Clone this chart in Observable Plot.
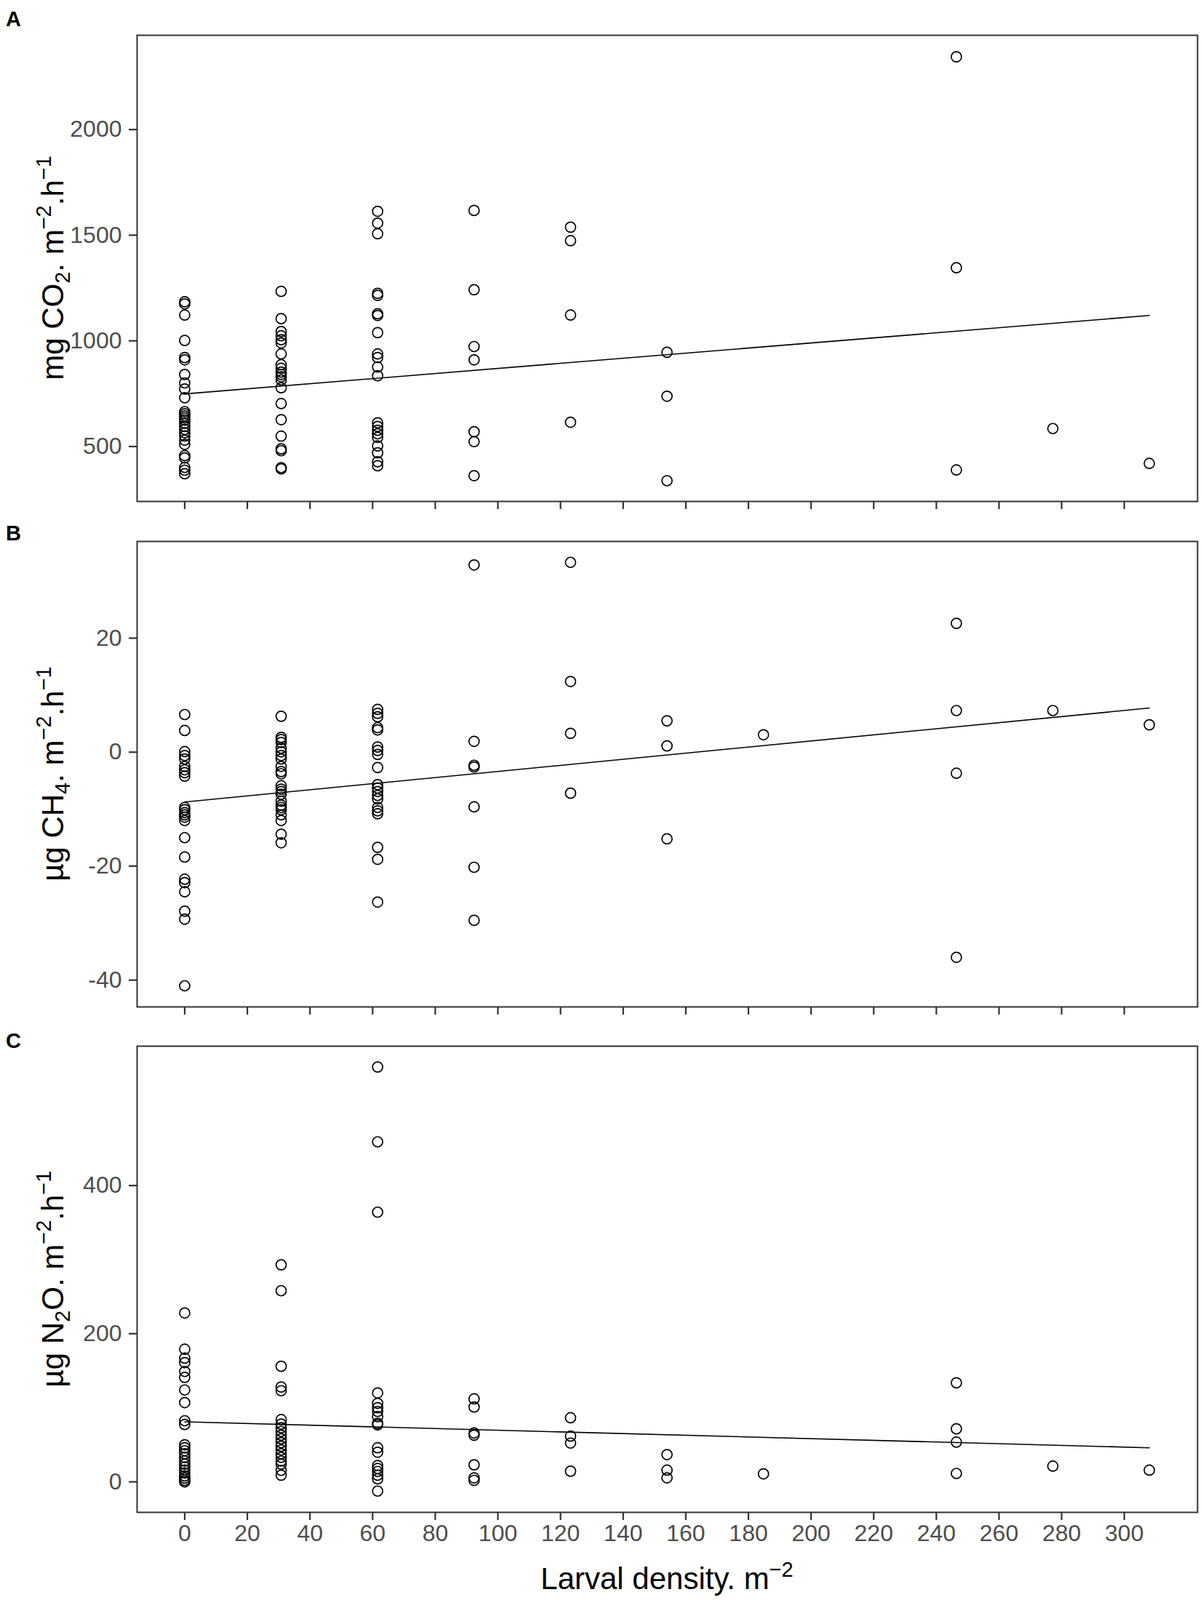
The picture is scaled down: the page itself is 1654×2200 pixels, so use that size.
<!DOCTYPE html>
<html>
<head>
<meta charset="utf-8">
<script src="https://cdn.jsdelivr.net/npm/d3@7"></script>
<script src="https://cdn.jsdelivr.net/npm/@observablehq/plot@0.6"></script>
<style>
  html, body { margin: 0; padding: 0; background: white; }
  #chart { position: relative; width: 1654px; height: 2200px; }
  #chart svg { display: block; }
  .panel-letter { position: absolute; left: 8px; font: bold 29px 'Liberation Sans', Arial, sans-serif; line-height: 29px; color: black; }
</style>
</head>
<body>
<div id="chart"></div>
<script>
// Larval density levels (m^-2)
const densities = [0, 30.8, 61.6, 92.4, 123.2, 154, 184.8, 246.4, 277.2, 308];
const xTicks = [0, 20, 40, 60, 80, 100, 120, 140, 160, 180, 200, 220, 240, 260, 280, 300];

// Panel A: mg CO2 m-2 h-1, one list per density level
const co2_0 = [1185, 1175, 1122, 1002, 921, 910, 841, 801, 772, 731, 665, 655, 645, 635, 625, 610, 595, 580, 565, 550, 530, 510, 457, 446, 401, 388, 371];
const co2_31 = [1234, 1105, 1044, 1024, 1005, 990, 938, 887, 870, 852, 841, 830, 815, 778, 703, 627, 549, 489, 480, 400, 394];
const co2_62 = [1613, 1557, 1507, 1225, 1215, 1128, 1120, 1039, 938, 921, 876, 835, 612, 595, 577, 560, 543, 503, 470, 428, 409];
const co2_92 = [1617, 1242, 973, 910, 570, 523, 362];
const co2_123 = [1538, 1474, 1122, 615];
const co2_154 = [946, 738, 338];
const co2_185 = [];
const co2_246 = [2344, 1346, 389];
const co2_277 = [585];
const co2_308 = [420];
const co2Fit = [749, 1120];
const co2Ticks = [500, 1000, 1500, 2000];

// Panel B: µg CH4 m-2 h-1
const ch4_0 = [6.6, 3.8, 0.1, -0.6, -1.2, -2.5, -3.1, -3.6, -4.2, -9.7, -10.1, -10.6, -11.0, -11.4, -12.0, -15.0, -18.4, -22.3, -22.9, -24.5, -27.9, -29.3, -41.0];
const ch4_31 = [6.3, 2.6, 2.2, 1.7, 0.7, 0.05, -0.6, -1.2, -2.5, -3.4, -3.8, -5.9, -6.5, -6.9, -7.4, -8.6, -9.3, -9.7, -10.1, -11.0, -12.0, -14.4, -15.9];
const ch4_62 = [7.5, 6.8, 6.2, 4.3, 3.9, 0.9, 0.3, -0.4, -2.7, -5.7, -6.3, -6.9, -7.6, -8.2, -9.7, -10.3, -10.8, -16.7, -18.8, -26.3];
const ch4_92 = [32.85, 1.9, -2.3, -2.6, -9.6, -20.2, -29.5];
const ch4_123 = [33.3, 12.4, 3.3, -7.2];
const ch4_154 = [5.5, 1.1, -15.2];
const ch4_185 = [3.05];
const ch4_246 = [22.6, 7.3, -3.7, -36.0];
const ch4_277 = [7.3];
const ch4_308 = [4.8];
const ch4Fit = [-8.74, 7.74];
const ch4Ticks = [-40, -20, 0, 20];

// Panel C: µg N2O m-2 h-1
const n2o_0 = [228, 179, 167, 161, 149, 141, 124, 107, 82.5, 77.5, 50, 46, 42, 38, 33, 28, 24, 20, 16, 12, 8, 5, 2, 0];
const n2o_31 = [293, 258, 156, 128, 123, 84, 78, 73, 68, 63, 58, 53, 48, 43, 38, 33, 28, 24, 15.5, 9];
const n2o_62 = [560, 459, 364, 120, 106, 100, 95, 88, 79, 77, 46, 40, 22, 18, 14, 9, 4, -12.5];
const n2o_92 = [112, 101, 66, 63, 23, 5.4, 2];
const n2o_123 = [86.5, 61.7, 52.3, 14.4];
const n2o_154 = [36.8, 15.8, 5.4];
const n2o_185 = [10.8];
const n2o_246 = [133.7, 71.6, 53.6, 11.3];
const n2o_277 = [21.2];
const n2o_308 = [15.8];
const n2oFit = [81.1, 46.0];
const n2oTicks = [0, 200, 400];

function toRows(groups) {
  const rows = [];
  groups.forEach((vals, i) => vals.forEach(v => rows.push({x: densities[i], y: v})));
  return rows;
}
function fitRows(fit) {
  return [{x: densities[0], y: fit[0]}, {x: densities[densities.length - 1], y: fit[1]}];
}

const FONT = "'Liberation Sans', Arial, Helvetica, sans-serif";
const W = 1654;
const chart = document.getElementById("chart");

function panel(cfg) {
  const rows = toRows(cfg.groups);
  const svgEl = Plot.plot({
    width: W,
    height: cfg.height,
    marginLeft: 188,
    marginRight: 8,
    marginTop: cfg.mt,
    marginBottom: cfg.mb,
    style: {fontFamily: FONT, fontSize: "32px", background: "white", color: "#4d4d4d", overflow: "visible"},
    x: {domain: [-15.2, 323.4]},
    y: {domain: cfg.yDomain},
    marks: [
      Plot.axisX({ticks: xTicks, tickSize: 11, tickPadding: 6, stroke: "#333", strokeWidth: 2.2, fill: "#4d4d4d",
        label: null, tickFormat: cfg.showX ? (d => String(d)) : (() => "")}),
      Plot.axisY({ticks: cfg.yTicks, tickSize: 11, tickPadding: 10, stroke: "#333", strokeWidth: 2.2, fill: "#4d4d4d",
        label: null, tickFormat: d => String(d)}),
      Plot.line(fitRows(cfg.fit), {x: "x", y: "y", stroke: "black", strokeWidth: 1.6}),
      Plot.dot(rows, {x: "x", y: "y", r: 7, stroke: "black", strokeWidth: 1.7, fill: "none"}),
      Plot.frame({stroke: "#333", strokeWidth: 2})
    ]
  });
  svgEl.style.position = "absolute";
  svgEl.style.left = "0px";
  svgEl.style.top = cfg.top + "px";
  const svg = d3.select(svgEl);
  // y-axis title
  const cy = cfg.mt + (cfg.height - cfg.mt - cfg.mb) / 2;
  const t = svg.append("text")
    .attr("transform", `translate(87,${cy}) rotate(-90)`)
    .attr("text-anchor", "middle")
    .style("font-family", FONT).style("font-size", "42px").style("fill", "black");
  t.append("tspan").text(cfg.title[0]);
  t.append("tspan").style("font-size", "29px").attr("dy", 9).text(cfg.title[1]);
  t.append("tspan").attr("dy", -9).text(cfg.title[2]);
  t.append("tspan").style("font-size", "29px").attr("dy", -17).text("\u22122");
  t.append("tspan").attr("dy", 17).text(".h");
  t.append("tspan").style("font-size", "29px").attr("dy", -17).text("\u22121");
  if (cfg.showX) {
    const xt = svg.append("text")
      .attr("x", (188 + (W - 8)) / 2).attr("y", cfg.height - 15)
      .attr("text-anchor", "middle")
      .style("font-family", FONT).style("font-size", "42px").style("fill", "black");
    xt.append("tspan").text("Larval density. m");
    xt.append("tspan").style("font-size", "29px").attr("dy", -17).text("\u22122");
  }
  chart.appendChild(svgEl);
  // panel letter (HTML, above the svg)
  const lab = document.createElement("div");
  lab.className = "panel-letter";
  lab.style.top = cfg.letterTop + "px";
  lab.textContent = cfg.letter;
  chart.appendChild(lab);
}

panel({
  groups: [co2_0, co2_31, co2_62, co2_92, co2_123, co2_154, co2_185, co2_246, co2_277, co2_308],
  fit: co2Fit, yDomain: [240, 2446], yTicks: co2Ticks,
  top: 0, height: 720, mt: 48, mb: 31, showX: false, letter: "A", letterTop: 12,
  title: ["mg CO", "2", ". m"]
});
panel({
  groups: [ch4_0, ch4_31, ch4_62, ch4_92, ch4_123, ch4_154, ch4_185, ch4_246, ch4_277, ch4_308],
  fit: ch4Fit, yDomain: [-44.7, 36.97], yTicks: ch4Ticks,
  top: 720, height: 700, mt: 24, mb: 36, showX: false, letter: "B", letterTop: 719,
  title: ["\u00B5g CH", "4", ". m"]
});
panel({
  groups: [n2o_0, n2o_31, n2o_62, n2o_92, n2o_123, n2o_154, n2o_185, n2o_246, n2o_277, n2o_308],
  fit: n2oFit, yDomain: [-41.2, 588.1], yTicks: n2oTicks,
  top: 1420, height: 780, mt: 18, mb: 121, showX: true, letter: "C", letterTop: 1417,
  title: ["\u00B5g N", "2", "O. m"]
});
</script>
</body>
</html>
